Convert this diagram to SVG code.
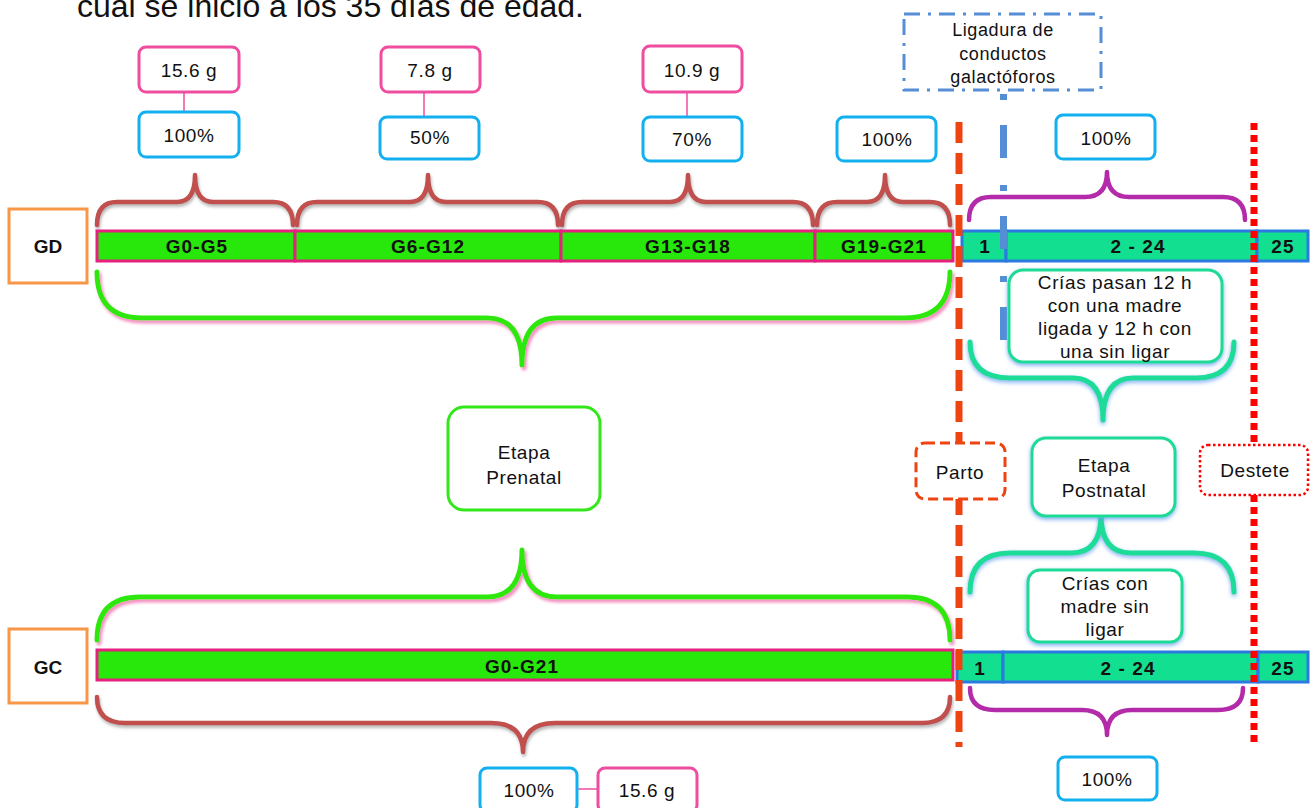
<svg xmlns="http://www.w3.org/2000/svg" width="1310" height="808" viewBox="0 0 1310 808">
  <defs>
    <filter id="shPink" x="-5%" y="-20%" width="110%" height="150%">
      <feDropShadow dx="2" dy="3" stdDeviation="1.6" flood-color="#F07AB4" flood-opacity="0.85"/>
    </filter>
    <filter id="shBlue" x="-5%" y="-20%" width="110%" height="150%">
      <feDropShadow dx="0" dy="2" stdDeviation="2" flood-color="#5E9BEF" flood-opacity="0.8"/>
    </filter>
    <filter id="shGrey" x="-5%" y="-20%" width="110%" height="150%">
      <feDropShadow dx="1" dy="2.5" stdDeviation="1.5" flood-color="#777" flood-opacity="0.55"/>
    </filter>
    <style>
      text { font-family: "Liberation Sans", Arial, sans-serif; fill: #111; }
      .lbl { font-size: 19px; text-anchor: middle; letter-spacing: 0.6px; }
      .bar { font-size: 19px; font-weight: bold; text-anchor: middle; letter-spacing: 1.1px; }
      .grp { font-size: 19px; font-weight: bold; text-anchor: middle; }
      .pink { fill: #fff; stroke: #EF4DA0; stroke-width: 3; }
      .blue { fill: #fff; stroke: #12B0EE; stroke-width: 3; }
      .teal { fill: #fff; stroke: #1FDB95; stroke-width: 3; }
      .gfill { fill: #27E80A; stroke: #E6207E; stroke-width: 3; }
      .tfill { fill: #13DF90; stroke: #2A7AE2; stroke-width: 3; }
      .brace { fill: none; stroke-linecap: round; stroke-linejoin: round; }
      .brown { stroke: #C0504D; stroke-width: 4.5; }
      .purple { stroke: #B42BAA; stroke-width: 4.5; }
      .green { stroke: #2DE80C; stroke-width: 5; }
      .tealb { stroke: #1EDC97; stroke-width: 5; }
      .tick { stroke: #EF4DA0; stroke-width: 1.5; }
    </style>
  </defs>

  <!-- heading line (continues above the canvas) -->
  <text x="77" y="17" font-size="32">cual se inició a los 35 días de edad.</text>

  <!-- braces -->
  <g id="braces">
    <path class="brace brown" filter="url(#shGrey)" d="M97,225 Q97,202 117,202 L177,202 Q195,202 195,175 Q195,202 213,202 L273,202 Q293,202 293,225"/>
    <path class="brace brown" filter="url(#shGrey)" d="M297,225 Q297,202 317,202 L410,202 Q428,202 428,175 Q428,202 446,202 L538,202 Q558,202 558,225"/>
    <path class="brace brown" filter="url(#shGrey)" d="M562,225 Q562,202 582,202 L670,202 Q688,202 688,175 Q688,202 706,202 L793,202 Q813,202 813,225"/>
    <path class="brace brown" filter="url(#shGrey)" d="M817,225 Q817,202 837,202 L867,202 Q885,202 885,175 Q885,202 903,202 L930,202 Q950,202 950,225"/>
    <path class="brace purple" d="M969,220 Q969,197 991,197 L1085,197 Q1107,197 1107,172 Q1107,197 1129,197 L1223,197 Q1245,197 1245,220"/>
    <path class="brace green" filter="url(#shPink)" d="M97,272 Q97,318 142,318 L487,318 Q522,318 522,365 Q522,318 557,318 L905,318 Q950,318 950,272"/>
    <path class="brace tealb" filter="url(#shBlue)" d="M970,342 Q970,378 1010,378 L1073,378 Q1103,378 1103,420 Q1103,378 1133,378 L1196,378 Q1234,378 1234,342"/>
    <path class="brace green" filter="url(#shPink)" d="M97,640 Q97,597 140,597 L487,597 Q522,597 522,550 Q522,597 557,597 L907,597 Q950,597 950,640"/>
    <path class="brace tealb" filter="url(#shBlue)" d="M970,592 Q970,553 1010,553 L1071,553 Q1101,553 1101,515 Q1101,553 1131,553 L1194,553 Q1234,553 1234,592"/>
    <path class="brace brown" filter="url(#shGrey)" d="M97,697 Q97,723 125,723 L491,723 Q523,723 523,752 Q523,723 555,723 L922,723 Q950,723 950,697"/>
    <path class="brace purple" d="M970,688 Q970,710 995,710 L1082,710 Q1107,710 1107,735 Q1107,710 1132,710 L1218,710 Q1243,710 1243,688"/>
  </g>

  <!-- group labels -->
  <g id="gd-label">
    <rect x="9" y="209" width="78" height="74" fill="#fff" stroke="#F79646" stroke-width="3"/>
    <text class="grp" x="48" y="253">GD</text>
  </g>
  <g id="gc-label">
    <rect x="9" y="629" width="78" height="74" fill="#fff" stroke="#F79646" stroke-width="3"/>
    <text class="grp" x="48" y="674">GC</text>
  </g>

  <!-- GD timeline -->
  <g id="gd-prenatal">
    <rect class="gfill" x="97" y="231" width="198" height="30"/>
    <rect class="gfill" x="295" y="231" width="266" height="30"/>
    <rect class="gfill" x="561" y="231" width="254" height="30"/>
    <rect class="gfill" x="815" y="231" width="138" height="30"/>
    <text class="bar" x="197" y="253">G0-G5</text>
    <text class="bar" x="428" y="253">G6-G12</text>
    <text class="bar" x="688" y="253">G13-G18</text>
    <text class="bar" x="884" y="253">G19-G21</text>
  </g>
  <g id="gd-postnatal">
    <rect class="tfill" x="962" y="231" width="44" height="30"/>
    <rect class="tfill" x="1006" y="231" width="251" height="30"/>
    <rect class="tfill" x="1257" y="231" width="51" height="30"/>
    <text class="bar" x="985" y="253">1</text>
    <text class="bar" x="1138" y="253">2 - 24</text>
    <text class="bar" x="1283" y="253">25</text>
  </g>

  <!-- GC timeline -->
  <g id="gc-prenatal">
    <rect class="gfill" x="97" y="650" width="856" height="30"/>
    <text class="bar" x="522" y="673">G0-G21</text>
  </g>
  <g id="gc-postnatal">
    <rect class="tfill" x="957" y="652" width="46" height="30"/>
    <rect class="tfill" x="1003" y="652" width="255" height="30"/>
    <rect class="tfill" x="1258" y="652" width="50" height="30"/>
    <text class="bar" x="980" y="675">1</text>
    <text class="bar" x="1128" y="675">2 - 24</text>
    <text class="bar" x="1283" y="675">25</text>
  </g>

  <!-- connectors -->
  <g id="connectors">
    <line class="tick" x1="184" y1="92" x2="184" y2="112"/>
    <line class="tick" x1="424" y1="92" x2="424" y2="117"/>
    <line class="tick" x1="687" y1="92" x2="687" y2="117"/>
    <line class="tick" x1="577" y1="789" x2="598" y2="789"/>
    <!-- ligation marker -->
    <line x1="1003.5" y1="94" x2="1003.5" y2="342" stroke="#558ED5" stroke-width="7" stroke-dasharray="6 25 33 27"/>
    <!-- birth line -->
    <line x1="959" y1="122" x2="959" y2="747" stroke="#EE4411" stroke-width="7" stroke-dasharray="21 10"/>
    <!-- weaning line -->
    <line x1="1254" y1="123" x2="1254" y2="747" stroke="#FF0000" stroke-width="7" stroke-dasharray="7 5"/>
  </g>

  <!-- food amount / percentage boxes -->
  <g id="w-g0">
    <rect class="pink" x="139" y="47" width="100" height="45" rx="7"/>
    <text class="lbl" x="189" y="77">15.6 g</text>
  </g>
  <g id="p-g0">
    <rect class="blue" x="139" y="112" width="100" height="45" rx="7"/>
    <text class="lbl" x="189" y="142">100%</text>
  </g>
  <g id="w-g6">
    <rect class="pink" x="381" y="47" width="99" height="45" rx="7"/>
    <text class="lbl" x="430" y="77">7.8 g</text>
  </g>
  <g id="p-g6">
    <rect class="blue" x="380" y="117" width="99" height="42" rx="7"/>
    <text class="lbl" x="430" y="144">50%</text>
  </g>
  <g id="w-g13">
    <rect class="pink" x="643" y="46" width="99" height="46" rx="7"/>
    <text class="lbl" x="692" y="77">10.9 g</text>
  </g>
  <g id="p-g13">
    <rect class="blue" x="643" y="117" width="99" height="44" rx="7"/>
    <text class="lbl" x="692" y="146">70%</text>
  </g>
  <g id="p-g19">
    <rect class="blue" x="837" y="117" width="99" height="44" rx="7"/>
    <text class="lbl" x="887" y="146">100%</text>
  </g>
  <g id="p-post-gd">
    <rect class="blue" x="1056" y="115" width="99" height="44" rx="7"/>
    <text class="lbl" x="1106" y="145">100%</text>
  </g>
  <g id="p-gc">
    <rect class="blue" x="480" y="768" width="97" height="44" rx="7"/>
    <text class="lbl" x="529" y="797">100%</text>
  </g>
  <g id="w-gc">
    <rect class="pink" x="598" y="768" width="99" height="44" rx="7"/>
    <text class="lbl" x="647" y="797">15.6 g</text>
  </g>
  <g id="p-post-gc">
    <rect class="blue" x="1058" y="757" width="99" height="43" rx="7"/>
    <text class="lbl" x="1107" y="786">100%</text>
  </g>

  <!-- ligation note -->
  <g id="ligadura">
    <rect x="904" y="14" width="197" height="76" fill="#fff" stroke="#558ED5" stroke-width="3" stroke-dasharray="16 8 3 8"/>
    <text class="lbl" x="1003" y="36" style="font-size:18px">Ligadura de</text>
    <text class="lbl" x="1003" y="60" style="font-size:18px">conductos</text>
    <text class="lbl" x="1003" y="83" style="font-size:18px">galactóforos</text>
  </g>

  <!-- stage boxes -->
  <g id="prenatal">
    <rect x="448" y="407" width="152" height="103" rx="16" fill="#fff" stroke="#33E81A" stroke-width="3"/>
    <text class="lbl" x="524" y="459">Etapa</text>
    <text class="lbl" x="524" y="484">Prenatal</text>
  </g>
  <g id="postnatal">
    <rect x="1032" y="438" width="143" height="78" rx="14" fill="#fff" stroke="#1FDB95" stroke-width="3" filter="url(#shBlue)"/>
    <text class="lbl" x="1104" y="472">Etapa</text>
    <text class="lbl" x="1104" y="497">Postnatal</text>
  </g>
  <g id="parto">
    <rect x="916" y="443" width="89" height="56" rx="9" fill="#fff" stroke="#EE4411" stroke-width="3" stroke-dasharray="10 5"/>
    <text class="lbl" x="960" y="479">Parto</text>
  </g>
  <g id="destete">
    <rect x="1200" y="445" width="108" height="50" rx="8" fill="#fff" stroke="#FF0000" stroke-width="2.5" stroke-dasharray="2.5 2.5"/>
    <text class="lbl" x="1255" y="477">Destete</text>
  </g>

  <!-- rearing condition notes -->
  <g id="crias-gd">
    <rect class="teal" x="1009" y="270" width="213" height="92" rx="14" filter="url(#shBlue)"/>
    <text class="lbl" x="1115" y="289">Crías pasan 12 h</text>
    <text class="lbl" x="1115" y="312">con una madre</text>
    <text class="lbl" x="1115" y="335">ligada y 12 h con</text>
    <text class="lbl" x="1115" y="358">una sin ligar</text>
  </g>
  <g id="crias-gc">
    <rect class="teal" x="1028" y="570" width="154" height="72" rx="12" filter="url(#shBlue)"/>
    <text class="lbl" x="1105" y="590">Crías con</text>
    <text class="lbl" x="1105" y="613">madre sin</text>
    <text class="lbl" x="1105" y="636">ligar</text>
  </g>
</svg>
